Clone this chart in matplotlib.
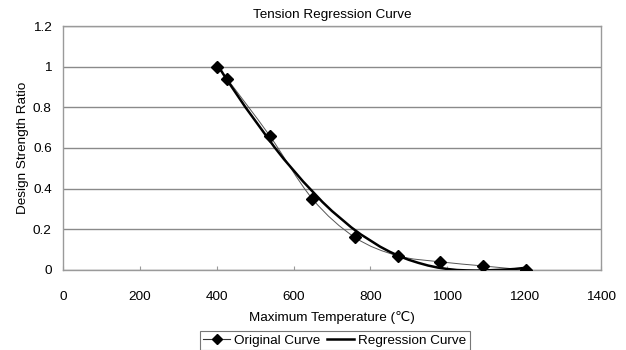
import matplotlib
matplotlib.use("Agg")
import matplotlib.pyplot as plt
from matplotlib.path import Path
from matplotlib.patches import PathPatch
from matplotlib.lines import Line2D
import numpy as np

plt.rcParams['font.family'] = ['Liberation Sans', 'DejaVu Sans']

# Original data points
orig_temp = [400, 427, 538, 649, 760, 871, 982, 1093, 1204]
orig_ratio = [1.0, 0.94, 0.66, 0.35, 0.16, 0.07, 0.04, 0.02, 0.0]

# Regression curve values
reg_temp = [400, 425, 450, 475, 500, 525, 550, 575, 600, 625, 650, 675, 700, 725,
            750, 775, 800, 825, 850, 875, 900, 925, 950, 975, 1000, 1025, 1050,
            1075, 1100, 1125, 1150, 1175, 1200]
reg_ratio = [1.015, 0.94, 0.87, 0.80, 0.735, 0.67, 0.605, 0.545, 0.49, 0.435, 0.385,
             0.335, 0.29, 0.25, 0.21, 0.175, 0.145, 0.115, 0.09, 0.068, 0.05, 0.035,
             0.022, 0.012, 0.005, 0.0, -0.002, -0.003, -0.002, 0.0, 0.002, 0.005, 0.01]

x_ticks = [0, 200, 400, 600, 800, 1000, 1200, 1400]
y_ticks = [0, 0.2, 0.4, 0.6, 0.8, 1.0, 1.2]
y_labels = ['0', '0.2', '0.4', '0.6', '0.8', '1', '1.2']

FS = 9.7

fig = plt.figure(figsize=(6.26, 3.5), dpi=100)
ax = fig.add_axes([0.1006, 0.2286, 0.8594, 0.6971])

ax.set_xlim(0, 1400)
ax.set_ylim(0, 1.2)
ax.set_xticks(x_ticks)
ax.set_xticklabels([str(t) for t in x_ticks])
ax.set_yticks(y_ticks)
ax.set_yticklabels(y_labels)
ax.grid(axis='y', color='#8a8a8a', linewidth=1.0)
ax.set_axisbelow(True)
for s in ax.spines.values():
    s.set_color('#9a9a9a')
    s.set_linewidth(1.0)
ax.tick_params(axis='x', direction='in', length=3, color='#9a9a9a', labelsize=FS, pad=15)
ax.tick_params(axis='y', length=0, labelsize=FS, pad=8)

# Smoothed original curve (Catmull-Rom style bezier through the data points)
xs = np.array(orig_temp, dtype=float)
ys = np.array(orig_ratio, dtype=float)
n = len(xs)
verts = [(xs[0], ys[0])]
codes = [Path.MOVETO]
t = 1.0 / 6.0
for i in range(n - 1):
    p0 = (xs[max(i - 1, 0)], ys[max(i - 1, 0)])
    p1 = (xs[i], ys[i])
    p2 = (xs[i + 1], ys[i + 1])
    p3 = (xs[min(i + 2, n - 1)], ys[min(i + 2, n - 1)])
    c1 = (p1[0] + (p2[0] - p0[0]) * t, p1[1] + (p2[1] - p0[1]) * t)
    c2 = (p2[0] - (p3[0] - p1[0]) * t, p2[1] - (p3[1] - p1[1]) * t)
    verts += [c1, c2, p2]
    codes += [Path.CURVE4] * 3
patch = PathPatch(Path(verts, codes), facecolor='none', edgecolor='#555555',
                  linewidth=0.7, zorder=3)
ax.add_patch(patch)
ax.plot(orig_temp, orig_ratio, linestyle='none', marker='D', markersize=6.3,
        color='black', zorder=5)

ax.plot(reg_temp, reg_ratio, color='black', linewidth=1.8, zorder=4)

ax.set_title('Tension Regression Curve', fontsize=FS, pad=6)
ax.set_xlabel('Maximum Temperature (℃)', fontsize=FS, labelpad=6)
ax.set_ylabel('Design Strength Ratio', fontsize=FS, labelpad=3)

handles = [Line2D([], [], color='#333333', linewidth=0.8, marker='D', markersize=5.5,
                  markerfacecolor='black', markeredgecolor='black'),
           Line2D([], [], color='black', linewidth=1.8)]
leg = fig.legend(handles, ['Original Curve', 'Regression Curve'], loc='center',
                 bbox_to_anchor=(0.535, 0.026), ncol=2, fontsize=FS, frameon=True,
                 fancybox=False, edgecolor='#555555', handlelength=2.0,
                 handletextpad=0.3, columnspacing=0.5, borderpad=0.25,
                 borderaxespad=0)
leg.get_frame().set_linewidth(0.8)

fig.savefig('out.png', dpi=100)
